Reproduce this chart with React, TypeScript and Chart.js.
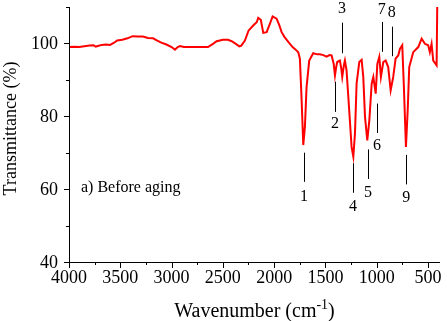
import React, { useEffect, useRef } from "react";
import { Chart, registerables } from "chart.js";

Chart.register(...registerables);

const wavenumbers = [
  4000, 3950, 3900, 3850, 3800, 3760, 3740, 3720, 3680, 3640, 3600, 3560, 3530, 3480, 3430, 3380, 3330, 3280,
  3230, 3180, 3140, 3100, 3050, 3000, 2967, 2940, 2918, 2880, 2800, 2700, 2645, 2600, 2560, 2500, 2450, 2414,
  2370, 2340, 2320, 2285, 2250, 2204, 2170, 2155, 2130, 2106, 2073, 2040, 2015, 1990, 1976, 1950, 1927, 1900,
  1862, 1820, 1790, 1765, 1749, 1732, 1716, 1700, 1684, 1658, 1619, 1580, 1554, 1520, 1489, 1460, 1440, 1420,
  1407, 1395, 1385, 1359, 1345, 1336, 1320, 1310, 1294, 1268, 1245, 1228, 1212, 1196, 1170, 1147, 1131, 1114,
  1092, 1072, 1049, 1033, 1010, 994, 975, 959, 936, 913, 888, 864, 839, 816, 790, 774, 751, 735, 715, 698, 683,
  644, 595, 562, 530, 498, 482, 465, 449, 426, 416, 410,
];
const transmittance = [
  99.0, 99.1, 99.0, 99.2, 99.4, 99.5, 99.1, 99.3, 99.6, 99.7, 99.6, 100.2, 100.8, 101.0, 101.4, 102.0, 101.9, 101.9,
  101.5, 101.4, 100.8, 100.2, 99.7, 99.0, 98.3, 99.0, 99.3, 99.0, 99.0, 99.0, 99.0, 99.8, 100.6, 101.0, 101.0, 100.6,
  99.8, 99.2, 99.4, 100.8, 103.5, 104.9, 105.8, 107.0, 106.5, 102.9, 103.1, 105.5, 107.4, 107.0, 106.8, 105.0, 103.1, 101.8,
  100.4, 99.0, 98.3, 97.6, 95.8, 84.4, 72.1, 77.1, 88.0, 95.3, 97.3, 97.0, 97.0, 96.8, 96.4, 96.8, 96.7, 94.5,
  91.2, 93.5, 94.9, 95.3, 93.0, 90.8, 94.0, 95.3, 92.6, 81.6, 71.6, 68.9, 75.3, 89.0, 94.9, 95.5, 90.8, 79.8,
  73.4, 78.9, 89.0, 90.8, 86.2, 94.4, 96.3, 90.8, 94.9, 95.3, 93.5, 87.1, 90.8, 95.8, 96.7, 98.5, 99.5, 88.0, 71.6, 81.6, 93.5,
  97.6, 99.0, 101.3, 99.9, 99.5, 97.6, 99.9, 95.3, 94.4, 94.0, 110.0,
];

const xTicks = [4000, 3500, 3000, 2500, 2000, 1500, 1000, 500];
const xMinorTicks = [3750, 3250, 2750, 2250, 1750, 1250, 750];
const yTicks = [40, 60, 80, 100];
const yMinorTicks = [50, 70, 90, 110];

const peakLabels = ["1", "2", "3", "4", "5", "6", "7", "8", "9"];
const peakWavenumbers = [1709, 1407, 1339, 1231, 1085, 997, 951, 854, 711];
const peakLineTop = [70.0, 89.5, 105.7, 67.1, 70.9, 83.5, 105.9, 104.6, 69.4];
const peakLineBottom = [62.0, 81.2, 97.3, 59.0, 62.8, 75.4, 97.7, 96.5, 61.3];
const peakLabelY = [57.8, 77.9, 109.4, 55.1, 58.9, 71.8, 109.1, 108.3, 57.5];

const noteText = "a) Before aging";
const noteWavenumber = 3883;
const noteY = 60.3;

const SERIF = "'Liberation Serif', 'Times New Roman', serif";

const overlay = {
  id: "overlay",
  afterDraw(chart: any) {
    const ctx = chart.ctx;
    const xs = chart.scales.x;
    const ys = chart.scales.y;
    const { left, right, top, bottom } = chart.chartArea;
    ctx.save();
    ctx.strokeStyle = "#000";
    ctx.fillStyle = "#000";
    ctx.lineWidth = 1;
    // axes
    ctx.beginPath();
    ctx.moveTo(Math.round(left) + 0.5, top);
    ctx.lineTo(Math.round(left) + 0.5, Math.round(bottom) + 0.5);
    ctx.lineTo(right, Math.round(bottom) + 0.5);
    ctx.stroke();
    // ticks
    ctx.beginPath();
    xTicks.forEach((v) => {
      const px = Math.round(xs.getPixelForValue(v)) + 0.5;
      ctx.moveTo(px, bottom);
      ctx.lineTo(px, bottom + 6);
    });
    xMinorTicks.forEach((v) => {
      const px = Math.round(xs.getPixelForValue(v)) + 0.5;
      ctx.moveTo(px, bottom);
      ctx.lineTo(px, bottom + 3);
    });
    yTicks.forEach((v) => {
      const py = Math.round(ys.getPixelForValue(v)) + 0.5;
      ctx.moveTo(left, py);
      ctx.lineTo(left - 5, py);
    });
    yMinorTicks.forEach((v) => {
      const py = Math.round(ys.getPixelForValue(v)) + 0.5;
      ctx.moveTo(left, py);
      ctx.lineTo(left - 3, py);
    });
    ctx.stroke();
    // tick labels
    ctx.font = `18px ${SERIF}`;
    ctx.textAlign = "center";
    ctx.textBaseline = "alphabetic";
    xTicks.forEach((v) => {
      ctx.fillText(String(v), xs.getPixelForValue(v), bottom + 21);
    });
    ctx.textAlign = "right";
    ctx.textBaseline = "middle";
    yTicks.forEach((v) => {
      ctx.fillText(String(v), left - 11, ys.getPixelForValue(v) + 1);
    });
    // axis titles
    ctx.save();
    ctx.translate(11, (top + bottom) / 2 - 6);
    ctx.rotate(-Math.PI / 2);
    ctx.textAlign = "center";
    ctx.textBaseline = "middle";
    ctx.font = `18px ${SERIF}`;
    ctx.fillText("Transmittance (%)", 0, 0);
    ctx.restore();

    const t1 = "Wavenumber (cm";
    const t2 = "-1";
    const t3 = ")";
    ctx.font = `20px ${SERIF}`;
    const w1 = ctx.measureText(t1).width;
    const w3 = ctx.measureText(t3).width;
    ctx.font = `14px ${SERIF}`;
    const w2 = ctx.measureText(t2).width;
    const total = w1 + w2 + w3;
    const sx = (left + right) / 2 - total / 2;
    const by = 317;
    ctx.textAlign = "left";
    ctx.textBaseline = "alphabetic";
    ctx.font = `20px ${SERIF}`;
    ctx.fillText(t1, sx, by);
    ctx.font = `14px ${SERIF}`;
    ctx.fillText(t2, sx + w1, by - 8);
    ctx.font = `20px ${SERIF}`;
    ctx.fillText(t3, sx + w1 + w2, by);

    // peak annotations
    ctx.beginPath();
    peakWavenumbers.forEach((w, i) => {
      const px = Math.round(xs.getPixelForValue(w)) + 0.5;
      ctx.moveTo(px, ys.getPixelForValue(peakLineTop[i]));
      ctx.lineTo(px, ys.getPixelForValue(peakLineBottom[i]));
    });
    ctx.stroke();
    ctx.font = `16px ${SERIF}`;
    ctx.textAlign = "center";
    ctx.textBaseline = "middle";
    peakWavenumbers.forEach((w, i) => {
      ctx.fillText(peakLabels[i], xs.getPixelForValue(w), ys.getPixelForValue(peakLabelY[i]));
    });
    // note
    ctx.textAlign = "left";
    ctx.font = `16px ${SERIF}`;
    ctx.fillText(noteText, xs.getPixelForValue(noteWavenumber), ys.getPixelForValue(noteY));
    ctx.restore();
  },
};

export default function App() {
  const ref = useRef<HTMLCanvasElement | null>(null);
  useEffect(() => {
    if (!ref.current) return;
    const chart = new Chart(ref.current, {
      type: "line",
      data: {
        datasets: [
          {
            data: wavenumbers.map((w, i) => ({ x: w, y: transmittance[i] })),
            borderColor: "#ff0000",
            borderWidth: 2,
            pointRadius: 0,
            tension: 0,
            fill: false,
          },
        ],
      },
      options: {
        responsive: false,
        animation: false,
        events: [],
        layout: { padding: { left: 0, top: 7, right: 7, bottom: 0 } },
        plugins: { legend: { display: false }, tooltip: { enabled: false } },
        scales: {
          x: {
            type: "linear",
            reverse: true,
            min: 383,
            max: 4000,
            grid: { display: false },
            border: { display: false },
            ticks: { display: false },
            afterFit: (s: any) => {
              s.height = 59;
            },
          },
          y: {
            type: "linear",
            min: 40,
            max: 110,
            grid: { display: false },
            border: { display: false },
            ticks: { display: false },
            afterFit: (s: any) => {
              s.width = 69;
            },
          },
        },
      } as any,
      plugins: [overlay],
    });
    return () => chart.destroy();
  }, []);
  return (
    <div style={{ position: "fixed", left: 0, top: 0, width: 447, height: 321, background: "#fff" }}>
      <canvas ref={ref} width={447} height={321} style={{ display: "block" }} />
    </div>
  );
}
